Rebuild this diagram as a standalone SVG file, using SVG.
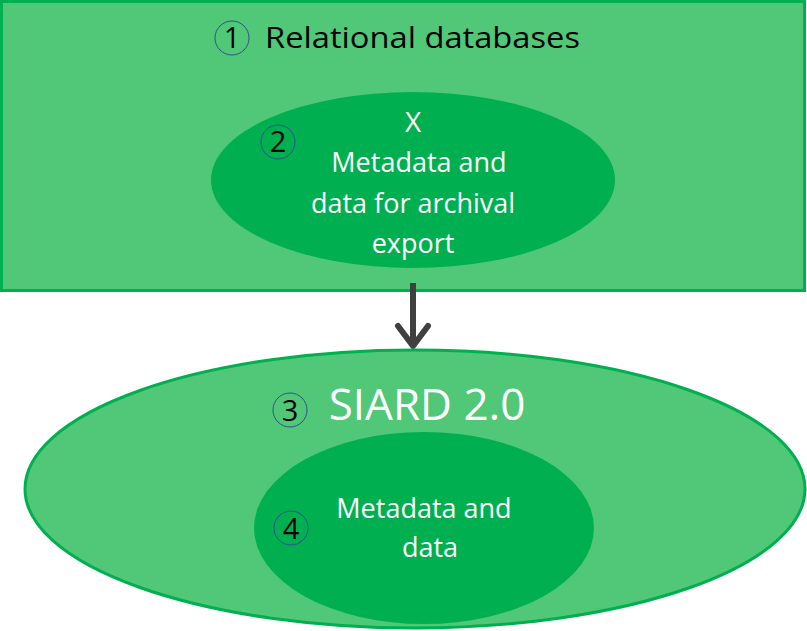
<svg xmlns="http://www.w3.org/2000/svg" width="807" height="631" viewBox="0 0 807 631">
<style>
.outer{fill:#50c878;stroke:#00b050;stroke-width:3}
.inner{fill:#00b050;stroke:none}
.num{fill:none;stroke:#2f4f8f;stroke-width:1}
.numt{font-family:"Open Sans",sans-serif;font-size:29px;fill:#000;text-anchor:middle}
.wt{font-family:"Open Sans",sans-serif;fill:#fff;text-anchor:middle}
</style>
<g id="relational">
<rect class="outer" x="1.5" y="1.5" width="803" height="289"/>
<circle class="num" cx="232" cy="38" r="17"/>
<text class="numt" x="232" y="48">1</text>
<text x="265" y="48" font-family="Open Sans, sans-serif" font-size="29" fill="#000" textLength="315" lengthAdjust="spacingAndGlyphs">Relational databases</text>
</g>
<g id="metadata-export">
<ellipse class="inner" cx="413" cy="180" rx="202" ry="88"/>
<circle class="num" cx="278" cy="142" r="17"/>
<text class="numt" x="278" y="152">2</text>
<text class="wt" x="413" y="132" font-size="28">X</text>
<text class="wt" x="419" y="172" font-size="27">Metadata and</text>
<text class="wt" x="413" y="213" font-size="27">data for archival</text>
<text class="wt" x="413" y="253" font-size="27">export</text>
</g>
<g id="connectors">
<line x1="413" y1="283" x2="413" y2="345" stroke="#404040" stroke-width="6"/>
<polyline points="398,326 413,346 428,326" fill="none" stroke="#404040" stroke-width="6" stroke-linecap="round" stroke-linejoin="round"/>
</g>
<g id="siard">
<ellipse class="outer" cx="415" cy="489" rx="390" ry="139"/>
<circle class="num" cx="290" cy="410" r="17"/>
<text class="numt" x="290" y="421">3</text>
<text class="wt" x="427" y="420" font-size="44">SIARD 2.0</text>
</g>
<g id="metadata-data">
<ellipse class="inner" cx="424" cy="528" rx="170" ry="96"/>
<circle class="num" cx="291" cy="528" r="17"/>
<text class="numt" x="291" y="539">4</text>
<text class="wt" x="424" y="518" font-size="27">Metadata and</text>
<text class="wt" x="430" y="557" font-size="27">data</text>
</g>
</svg>
